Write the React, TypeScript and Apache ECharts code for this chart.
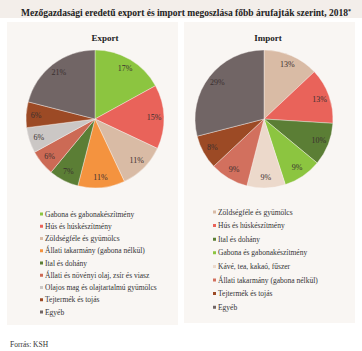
import React, { useEffect, useRef } from "react";
import * as echarts from "echarts";

const TITLE = "Mezőgazdasági eredetű export és import megoszlása főbb árufajták szerint, 2018";
const SOURCE = "Forrás: KSH";

const exportNames = [
  "Gabona és gabonakészítmény",
  "Hús és húskészítmény",
  "Zöldségféle és gyümölcs",
  "Állati takarmány (gabona nélkül)",
  "Ital és dohány",
  "Állati és növényi olaj, zsír és viasz",
  "Olajos mag és olajtartalmú gyümölcs",
  "Tejtermék és tojás",
  "Egyéb",
];
const exportValues = [17, 15, 11, 11, 7, 6, 6, 6, 21];
const exportColors = ["#8cc540", "#e9635a", "#d9bba5", "#f4933f", "#5b7e35", "#cc6a55", "#cbc7c5", "#9c4a25", "#716565"];

const importNames = [
  "Zöldségféle és gyümölcs",
  "Hús és húskészítmény",
  "Ital és dohány",
  "Gabona és gabonakészítmény",
  "Kávé, tea, kakaó, fűszer",
  "Állati takarmány (gabona nélkül)",
  "Tejtermék és tojás",
  "Egyéb",
];
const importValues = [13, 13, 10, 9, 9, 9, 8, 29];
const importColors = ["#d9bba5", "#e9635a", "#5b7e35", "#8cc540", "#ecd9cb", "#d2705e", "#9c4a25", "#716565"];

const FONT = "Liberation Serif";

function makeData(names: string[], values: number[], colors: string[]) {
  return names.map((n, i) => ({ name: n, value: values[i], itemStyle: { color: colors[i] } }));
}

export default function App() {
  const ref = useRef<HTMLDivElement>(null);
  useEffect(() => {
    document.body.style.margin = "0";
    const chart = echarts.init(ref.current!, undefined, { renderer: "svg" });
    const pieBase = (id: string, center: [number, number], names: string[], values: number[], colors: string[]) => ({
      type: "pie",
      id,
      center,
      radius: [0, 69],
      startAngle: 90,
      clockwise: true,
      silent: true,
      label: { show: false },
      labelLine: { show: false },
      itemStyle: { borderColor: "#f9f6f3", borderWidth: 0.4 },
      data: makeData(names, values, colors),
    });
    const pieLabels = (id: string, center: [number, number], names: string[], values: number[]) => ({
      type: "pie",
      id,
      center,
      radius: [43, 69],
      startAngle: 90,
      clockwise: true,
      silent: true,
      label: {
        show: true,
        position: "inside",
        formatter: "{c}%",
        fontFamily: FONT,
        fontSize: 8,
        color: "#3a2f2f",
      },
      labelLine: { show: false },
      itemStyle: { color: "rgba(0,0,0,0)", borderWidth: 0 },
      data: names.map((n, i) => ({ name: n, value: values[i] })),
    });
    const legendBase = {
      orient: "vertical",
      selectedMode: false,
      icon: "rect",
      itemWidth: 5,
      itemHeight: 5,
      textStyle: { fontFamily: FONT, fontSize: 7.5, color: "#333", lineHeight: 8, padding: [0, 0, 0, -4] },
      padding: 0,
    };
    chart.setOption({
      animation: false,
      backgroundColor: "#ffffff",
      graphic: [
        { type: "rect", shape: { x: 0, y: 0, width: 362, height: 18 }, style: { fill: "#f3eeea" }, z: -10 },
        { type: "rect", shape: { x: 7, y: 22, width: 171, height: 303 }, style: { fill: "#f9f6f3" }, z: -10 },
        { type: "rect", shape: { x: 184, y: 22, width: 171, height: 301 }, style: { fill: "#f9f6f3" }, z: -10 },
      ],
      title: [
        {
          text: TITLE + "{sup|*}",
          left: 181,
          top: 3,
          textAlign: "center",
          textStyle: {
            fontFamily: FONT,
            fontSize: 9.5,
            fontWeight: "bold",
            color: "#222",
            rich: { sup: { fontFamily: FONT, fontSize: 6, fontWeight: "bold", verticalAlign: "top", padding: [0, 0, 4, 0], color: "#222" } },
          },
        },
        { text: "Export", left: 100, top: 28, textAlign: "center", textStyle: { fontFamily: FONT, fontSize: 9, fontWeight: "bold", color: "#222" } },
        { text: "Import", left: 263, top: 28, textAlign: "center", textStyle: { fontFamily: FONT, fontSize: 9, fontWeight: "bold", color: "#222" } },
        { text: SOURCE, left: 5, top: 335, textStyle: { fontFamily: FONT, fontSize: 7.5, fontWeight: "normal", color: "#333" } },
      ],
      legend: [
        {
          ...legendBase,
          left: 38,
          top: 210,
          itemGap: 4.25,
          data: exportNames.map((n, i) => ({ name: n, itemStyle: { color: exportColors[i] } })),
        },
        {
          ...legendBase,
          left: 211,
          top: 208,
          itemGap: 5.6,
          data: importNames.map((n, i) => ({ name: n, itemStyle: { color: importColors[i] } })),
        },
      ],
      series: [
        pieBase("exp", [95, 119], exportNames, exportValues, exportColors),
        pieBase("imp", [264, 119], importNames, importValues, importColors),
        pieLabels("expL", [95, 119], exportNames, exportValues),
        pieLabels("impL", [264, 119], importNames, importValues),
      ],
    });
    return () => chart.dispose();
  }, []);
  return <div ref={ref} style={{ position: "absolute", left: 0, top: 0, width: 362, height: 351 }} />;
}
